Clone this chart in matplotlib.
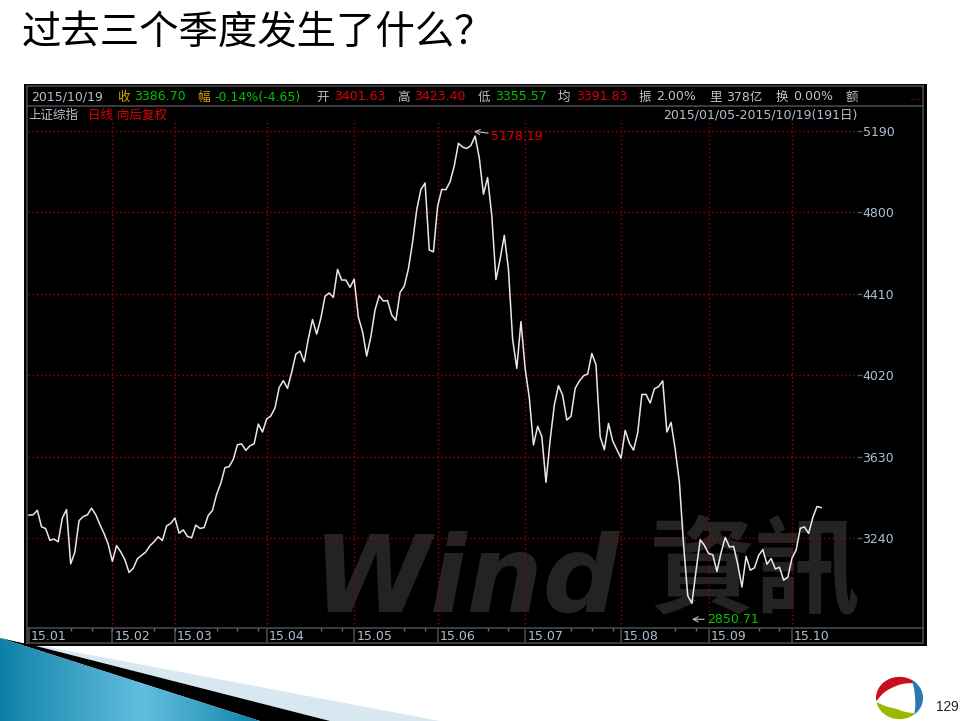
import numpy as np
import matplotlib
matplotlib.use("Agg")
import matplotlib.pyplot as plt
from matplotlib.patches import Rectangle, Polygon

plt.rcParams['font.family'] = ['DejaVu Sans', 'Noto Sans CJK SC']

title = "过去三个季度发生了什么？"
close = [3350,3351,3373,3294,3285,3229,3235,3222,3336,3376,3116,3173,3323,3343,3351,3383,3352,3305,3262,3210,
         3128,3204,3174,3136,3075,3095,3141,3157,3173,3203,3222,3246,3228,3298,3310,
         3336,3263,3279,3248,3241,3302,3286,3290,3349,3372,3449,3502,3577,3582,3617,3687,3691,3660,3682,3691,3786,3748,
         3810,3825,3863,3961,3994,3957,4034,4121,4135,4084,4194,4287,4217,4293,4398,4414,4393,4527,4476,4476,4441,
         4480,4298,4229,4112,4205,4333,4401,4375,4378,4308,4283,4417,4446,4529,4657,4813,4910,4941,4620,4611,
         4828,4910,4909,4947,5023,5131,5113,5106,5121,5166,5062,4887,4967,4785,4478,4576,4690,4527,4192,4053,4277,
         4053,3912,3686,3775,3727,3507,3709,3877,3970,3924,3805,3823,3957,3992,4017,4026,4124,4070,3725,3663,3789,3705,3664,
         3622,3756,3694,3661,3744,3928,3928,3887,3955,3965,3993,3748,3794,3664,3507,3209,2964,2927,3084,3232,3205,
         3166,3160,3080,3170,3243,3197,3200,3114,3005,3152,3086,3097,3156,3185,3115,3142,3092,3100,3038,3052,
         3143,3183,3287,3293,3262,3338,3391,3386]
month_labels = ["15.01","15.02","15.03","15.04","15.05","15.06","15.07","15.08","15.09","15.10"]
month_start = [0,20,35,57,78,98,119,142,163,183]
y_ticks = [3240,3630,4020,4410,4800,5190]
high_day, high_value = 107, 5178.19
low_day, low_value = 159, 2850.71

W, H = 963, 721
fig = plt.figure(figsize=(W/100, H/100), dpi=100, facecolor='white')

def box(l, t, r, b):
    return [l/W, 1-b/H, (r-l)/W, (b-t)/H]

# page furniture, pixel coordinates
bg = fig.add_axes([0,0,1,1], zorder=0)
bg.set_xlim(0,W); bg.set_ylim(H,0); bg.axis('off')
bg.text(22, 33, title, fontsize=28.4, color='black', va='center',
        family=['Noto Sans CJK SC','DejaVu Sans'])
bg.add_patch(Polygon([(36,646),(43,646),(440,721),(330,721)], color='#d8e8f0', lw=0))
bg.add_patch(Polygon([(0,638),(36,646),(330,721),(260,721)], color='black', lw=0))
clip = Polygon([(0,638),(260,721),(0,721)], transform=bg.transData, lw=0, fc='none')
grad = np.interp(np.linspace(0,1,300), [0,.15,.55,.8,1], [0,.3,1,.5,0])
c0, c1 = np.array([13,128,168])/255, np.array([98,190,222])/255
img = c0 + (c1-c0)*grad[:,None]
im = bg.imshow(img[None,:,:], extent=(0,260,721,638), aspect='auto', zorder=2)
bg.add_patch(clip); im.set_clip_path(clip)
bg.set_xlim(0,W); bg.set_ylim(H,0)
bg.add_patch(Rectangle((24,84), 903, 562, fc='black', ec='none', zorder=3))
for l in [(27,86,923,86),(27,106,923,106),(27,86,27,643),(923,86,923,643),(27,628,923,628),(27,643,923,643)]:
    bg.plot([l[0],l[2]],[l[1],l[3]], color='#4d4d4d', lw=1.1, zorder=4)

def crescent(a0, a1, R, t, color, cx=899.5, cy=698, sy=.9):
    th = np.radians(np.linspace(a0,a1,60))
    u = np.linspace(0,1,60)
    ri = R - t*np.sin(np.pi*u)**.7
    ox, oy = cx+R*np.cos(th), cy-R*sy*np.sin(th)
    ix, iy = cx+ri*np.cos(th), cy-ri*sy*np.sin(th)
    bg.add_patch(Polygon(np.r_[np.c_[ox,oy], np.c_[ix,iy][::-1]], fc=color, lw=0, zorder=3))
crescent(45,188,23.5,10,'#c8101c')
crescent(58,-50,23.5,8,'#2a78b0')
crescent(192,312,23.5,11,'#9ab800')
bg.text(936, 707, "129", fontsize=9.8, color='#222222', va='center', family='Liberation Sans')

LG, OR, GN, RD, BL = '#bcc4cc', '#d8a400', '#00c400', '#e00000', '#b0c0d0'
header = [(31,"2015/10/19",BL),(117,"收",OR),(134,"3386.70",GN),(197,"幅",OR),(214,"-0.14%(-4.65)",GN),
          (316,"开",LG),(334,"3401.63",RD),(397,"高",LG),(414,"3423.40",RD),(478,"低",LG),(495,"3355.57",GN),
          (558,"均",LG),(576,"3391.83",RD),(639,"振",LG),(656,"2.00%",LG),(709,"里",LG),(726,"378亿",LG),
          (776,"换",LG),(793,"0.00%",LG),(846,"额",LG),(910,"...",RD)]
for x, s, c in header:
    bg.text(x, 97, s, fontsize=9, color=c, va='center', zorder=5)
bg.text(28, 115, "上证综指", fontsize=9, color=LG, va='center', zorder=5)
bg.text(88, 115, "日线 向后复权", fontsize=9, color=RD, va='center', zorder=5)
bg.text(857, 115, "2015/01/05-2015/10/19(191日)", fontsize=9, color=BL, va='center', ha='right', zorder=5)

# price chart
days = np.arange(len(close))
xl = (-0.24, 198.6)
ax = fig.add_axes(box(28,107,857,628), zorder=2, facecolor='none')
ax.set_xlim(*xl); ax.set_ylim(2809, 5305)
for s in ax.spines.values():
    s.set_visible(False)
ax.text(0.714, 0.088, "Wind", transform=ax.transAxes, fontsize=77, weight='bold', style='italic',
        color='#232323', ha='right', va='center', family='DejaVu Sans', zorder=1)
ax.text(1.005, 0.105, "資訊", transform=ax.transAxes, fontsize=76, weight='bold',
        color='#232323', ha='right', va='center', family='Noto Sans CJK TC', zorder=1)
GRID = dict(color='#a00000', lw=1, ls=(0,(1,2)), zorder=2)
ax.hlines(y_ticks, *xl, **GRID)
ax.vlines(month_start[1:], 2809, 5247, **GRID)
ax.plot(days, close, color='#e8e8e8', lw=1.1, zorder=3)
ax.yaxis.tick_right()
ax.set_yticks(y_ticks)
ax.tick_params(axis='y', length=3.5, width=1, color='#555555', labelcolor=BL, labelsize=9, pad=.5)
ax.set_xticks([])
ax.annotate(f"{high_value:.2f}", xy=(high_day-.3, high_value+10), xytext=(high_day+3.8, high_value-15),
            color=RD, fontsize=9, va='center', zorder=5,
            arrowprops=dict(arrowstyle='->', color='#c0c0c0', lw=.8, shrinkA=0, shrinkB=0))
ax.annotate(f"{low_value:.2f}", xy=(low_day, low_value), xytext=(low_day+3.6, low_value),
            color=GN, fontsize=9, va='center', zorder=5,
            arrowprops=dict(arrowstyle='->', color='#c0c0c0', lw=.8, shrinkA=0, shrinkB=0))

# month strip
st = fig.add_axes(box(28,628,857,643), zorder=2, facecolor='none')
st.set_xlim(*xl); st.set_ylim(0,1); st.axis('off')
ms = np.array(month_start)
st.vlines(ms, 0, 1, color='#4d4d4d', lw=1.1)
minor = [d for d in range(5,190,5) if not ((d-ms[ms<=d].max()) < 10 and d > ms[ms<=d].max())]
st.vlines(minor, .8, 1, color='#707070', lw=1)
for d, s in zip(month_start, month_labels):
    st.text(d+.5, .42, s, fontsize=9, color=BL, va='center', ha='left')

fig.savefig("out.png", dpi=100)
